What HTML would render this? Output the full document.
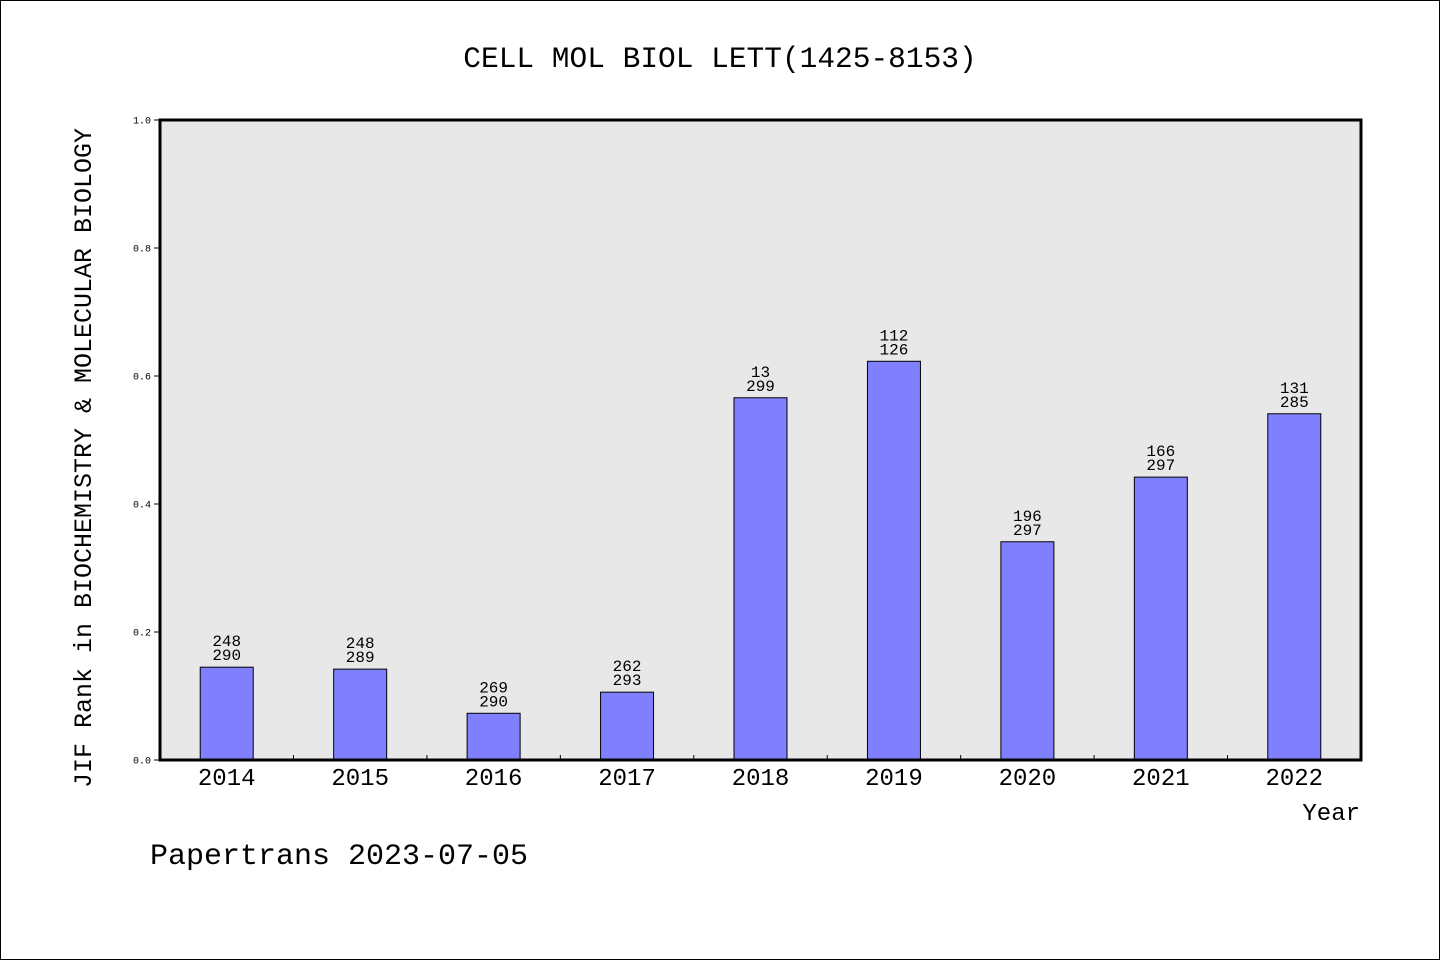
<!DOCTYPE html>
<html><head><meta charset="utf-8"><style>
html,body{margin:0;padding:0;background:#fff}
svg{display:block}
text{font-family:"Liberation Mono","WenQuanYi Zen Hei",monospace;fill:#000}
</style></head><body>
<svg id="chart" width="1440" height="960" viewBox="0 0 1440 960" xmlns="http://www.w3.org/2000/svg">
<rect x="0.5" y="0.5" width="1439" height="959" fill="#fff" stroke="#000"/>
<text x="720" y="67" font-size="29.5" text-anchor="middle">CELL MOL BIOL LETT(1425-8153)</text>
<rect x="160" y="120" width="1201" height="640" fill="#e8e8e8"/>
<g id="ticks"></g>
<g id="bars"></g>
<rect x="160" y="120" width="1201" height="640" fill="none" stroke="#000" stroke-width="3"/>
<text transform="translate(91,458) rotate(-90)" font-size="25" text-anchor="middle">JIF Rank in BIOCHEMISTRY &amp; MOLECULAR BIOLOGY</text>
<text x="1360" y="820" font-size="24" text-anchor="end">Year</text>
<text x="150" y="864" font-size="30">Papertrans 2023-07-05</text>
</svg>
<script>
const categories = ["2014","2015","2016","2017","2018","2019","2020","2021","2022"];
const values = [0.145,0.142,0.073,0.106,0.566,0.623,0.341,0.442,0.541];
const rankLabels = ["248","248","269","262","13","112","196","166","131"];
const totalLabels = ["290","289","290","293","299","126","297","297","285"];
const yTicks = [0,0.2,0.4,0.6,0.8,1.0];
const yTickLabels = ["0.0","0.2","0.4","0.6","0.8","1.0"];

const NS="http://www.w3.org/2000/svg";
const X0=160,X1=1361,Y0=760,Y1=120;
const band=(X1-X0)/categories.length;
const xCenter=i=>X0+band*(i+0.5);
const yScale=v=>Y0-(Y0-Y1)*v;
function mk(tag,attrs){const e=document.createElementNS(NS,tag);for(const k in attrs)e.setAttribute(k,attrs[k]);return e;}
const tg=document.getElementById('ticks'), bg=document.getElementById('bars');
yTicks.forEach((t,i)=>{
  const y=yScale(t);
  const l=mk('line',{x1:X0-6,x2:X0,y1:y,y2:y,stroke:'#000'});
  
  
  tg.appendChild(l);
  const tx=mk('text',{x:X0-9,y:y+3.5,'font-size':10,'text-anchor':'end'});
  
  
  tx.textContent=yTickLabels[i];tg.appendChild(tx);
});
for(let i=1;i<categories.length;i++){
  const x=X0+band*i;
  const l=mk('line',{x1:x,x2:x,y1:Y0,y2:Y0-5,stroke:'#000'});
  
  
  tg.appendChild(l);
}
categories.forEach((c,i)=>{
  const cx=xCenter(i), y=yScale(values[i]), w=53;
  const r=mk('rect',{x:cx-w/2,y:y,width:w,height:Y0-y,fill:'#8080ff',stroke:'#000','stroke-width':1});
  
  
  bg.appendChild(r);
  const t1=mk('text',{x:cx,y:y-21,'font-size':16,'text-anchor':'middle'});
  
  
  t1.textContent=rankLabels[i];bg.appendChild(t1);
  const t2=mk('text',{x:cx,y:y-7,'font-size':16,'text-anchor':'middle'});
  
  
  t2.textContent=totalLabels[i];bg.appendChild(t2);
  const xl=mk('text',{x:cx,y:785,'font-size':24,'text-anchor':'middle'});
  
  
  xl.textContent=c;bg.appendChild(xl);
});
</script>
</body></html>
